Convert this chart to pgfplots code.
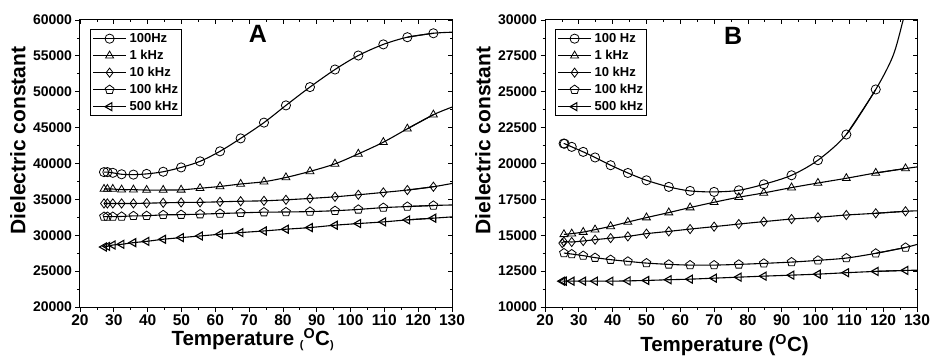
\documentclass[border=0pt]{standalone}
\usepackage{pgfplots}
\pgfplotsset{compat=1.18}
\usepackage{fontspec}
\setmainfont{Liberation Sans}
\usetikzlibrary{plotmarks}

\pgfplotsset{
 base/.style={scale only axis, width=372pt, height=287pt, xmin=20, xmax=130,
   xtick={20,30,...,130}, minor x tick num=1, minor y tick num=1,
   /pgf/number format/assume math mode=true,
   /pgf/number format/set thousands separator={},
   scaled y ticks=false,
   yticklabel style={font=\bfseries\fontsize{14}{14}\selectfont},
   xticklabel style={font=\bfseries\fontsize{15.5}{15.5}\selectfont},
   tick style={black, line width=0.8pt},
   major tick length=4.5pt, minor tick length=2.5pt,
   axis line style={line width=1pt}},
 mainax/.style={base, tick align=outside, tick pos=left,
   xlabel style={font=\bfseries\fontsize{20.5}{21}\selectfont},
   ylabel style={font=\bfseries\fontsize{21}{21}\selectfont},
   ylabel={Dielectric constant},
   ylabel style={at={(axis description cs:-0.147,0.58)}, anchor=base},
   legend style={at={(axis description cs:0.027,0.968)}, anchor=north west,
     draw=black, line width=1pt, font=\bfseries\fontsize{13}{13}\selectfont,
     cells={anchor=west}, row sep=3pt, inner sep=2pt,
     nodes={inner sep=1pt, text height=9.5pt, text depth=2.5pt},
     /tikz/every odd column/.style={column sep=2pt}},
   legend image code/.code={\draw[mark repeat=2,mark phase=2] plot coordinates {(0pt,0pt) (16.5pt,0pt) (33pt,0pt)};}},
 overax/.style={base, tick align=inside, tick pos=right, xticklabels={}, yticklabels={}, axis line style={draw=none}},
 ser/.style={black, line width=1.1pt, smooth, mark size=4.6pt, mark options={fill=white, line width=0.8pt, solid}},
 tail/.style={black, line width=1.1pt, smooth, no markers, forget plot},
}

\begin{document}
\begin{tikzpicture}
% ---------------- Panel A ----------------
\begin{axis}[mainax, at={(0pt,0pt)}, ymin=20000, ymax=60000, ytick={20000,25000,...,60000},
  xlabel style={at={(axis description cs:0.464,0)}, anchor=base, yshift=-38.7pt},
  xlabel={Temperature \raisebox{-2.5pt}{\fontsize{11}{11}\selectfont(}\textsuperscript{O}C\raisebox{-2.5pt}{\fontsize{11}{11}\selectfont)}}]
\addplot[ser, mark=o] coordinates {(27.1,38800)(28.1,38800)(29.7,38700)(32.3,38500)(35.8,38450)(39.7,38550)(44.6,38850)(49.9,39450)(55.5,40300)(61.4,41700)(67.5,43500)(74.4,45700)(80.9,48100)(88.0,50650)(95.4,53100)(102.3,55050)(109.7,56600)(116.8,57600)(124.5,58150)};
\addlegendentry{100Hz}
\addplot[tail] coordinates {(116.8,57600)(124.5,58150)(130,58300)};
\addplot[ser, mark=triangle] coordinates {(27.1,36440)(28.1,36440)(29.7,36440)(32.3,36350)(35.8,36350)(39.7,36300)(44.6,36300)(49.9,36330)(55.5,36550)(61.4,36800)(67.5,37140)(74.4,37460)(80.9,38050)(88.0,38900)(95.4,39950)(102.3,41340)(109.7,42970)(116.8,44840)(124.5,46800)};
\addlegendentry{1 kHz}
\addplot[tail] coordinates {(116.8,44840)(124.5,46800)(130,47860)};
\addplot[ser, mark=diamond] coordinates {(27.1,34430)(28.1,34430)(29.7,34430)(32.3,34430)(35.8,34430)(39.7,34470)(44.6,34520)(49.9,34570)(55.5,34590)(61.4,34660)(67.5,34740)(74.4,34800)(80.9,34940)(88.0,35130)(95.4,35360)(102.3,35640)(109.7,35970)(116.8,36300)(124.5,36760)};
\addlegendentry{10 kHz}
\addplot[tail] coordinates {(116.8,36300)(124.5,36760)(130,37220)};
\addplot[ser, mark=pentagon] coordinates {(27.1,32600)(28.1,32600)(29.7,32600)(32.3,32620)(35.8,32700)(39.7,32720)(44.6,32840)(49.9,32870)(55.5,32940)(61.4,33030)(67.5,33120)(74.4,33220)(80.9,33240)(88.0,33300)(95.4,33420)(102.3,33600)(109.7,33850)(116.8,34000)(124.5,34150)};
\addlegendentry{100 kHz}
\addplot[tail] coordinates {(116.8,34000)(124.5,34150)(130,34220)};
\addplot[ser, mark=triangle, mark options={rotate=90}] coordinates {(27.1,28360)(28.1,28450)(29.7,28640)(32.3,28740)(35.8,28970)(39.7,29150)(44.6,29440)(49.9,29670)(55.5,29900)(61.4,30140)(67.5,30370)(74.4,30600)(80.9,30840)(88.0,31070)(95.4,31400)(102.3,31630)(109.7,31860)(116.8,32140)(124.5,32380)};
\addlegendentry{500 kHz}
\addplot[tail] coordinates {(116.8,32140)(124.5,32380)(130,32560)};
\node[font=\bfseries\fontsize{25}{25}\selectfont] at (axis description cs:0.478,0.951) {A};
\end{axis}
\begin{axis}[overax, at={(0pt,0pt)}, ymin=20000, ymax=60000, ytick={20000,25000,...,60000}]
\end{axis}
% ---------------- Panel B ----------------
\begin{axis}[mainax, at={(465pt,0pt)}, ymin=10000, ymax=30000, ytick={10000,12500,...,30000},
  xlabel style={at={(axis description cs:0.4825,0)}, anchor=base, yshift=-44.7pt},
  xlabel={Temperature (\textsuperscript{O}C)}]
\addplot[ser, mark=o] coordinates {(25.5,21390)(25.8,21380)(27.9,21160)(31.3,20810)(34.8,20420)(39.4,19880)(44.5,19340)(50.0,18830)(56.6,18370)(62.9,18090)(70.0,18020)(77.3,18130)(84.7,18550)(92.9,19180)(100.7,20230)(109.1,22020)(117.8,25160)};
\addlegendentry{100 Hz}
\addplot[tail] coordinates {(109.1,22020)(117.8,25160)(122.9,27500)(125.9,30000)(127.5,31600)};
\addplot[ser, mark=triangle] coordinates {(25.6,15063)(27.9,15110)(31.3,15220)(34.8,15390)(39.4,15620)(44.5,15920)(50.0,16230)(56.6,16580)(62.9,16930)(70.0,17300)(77.3,17650)(84.7,17950)(92.9,18320)(100.7,18640)(109.1,18970)(117.8,19340)(126.6,19650)};
\addlegendentry{1 kHz}
\addplot[tail] coordinates {(117.8,19340)(126.6,19650)(130,19760)};
\addplot[ser, mark=diamond] coordinates {(25.1,14450)(25.6,14550)(27.9,14530)(31.3,14600)(34.8,14690)(39.4,14800)(44.5,14920)(50.0,15110)(56.6,15270)(62.9,15430)(70.0,15600)(77.3,15780)(84.7,15950)(92.9,16130)(100.7,16250)(109.1,16410)(117.8,16530)(126.6,16670)};
\addlegendentry{10 kHz}
\addplot[tail] coordinates {(117.8,16530)(126.6,16670)(130,16700)};
\addplot[ser, mark=pentagon] coordinates {(25.6,13760)(27.9,13690)(31.3,13580)(34.8,13440)(39.4,13300)(44.5,13180)(50.0,13060)(56.6,12970)(62.9,12920)(70.0,12920)(77.3,12970)(84.7,13040)(92.9,13130)(100.7,13250)(109.1,13410)(117.8,13740)(126.6,14150)};
\addlegendentry{100 kHz}
\addplot[tail] coordinates {(117.8,13740)(126.6,14150)(130,14360)};
\addplot[ser, mark=triangle, mark options={rotate=90}] coordinates {(25.1,11800)(25.6,11800)(27.9,11800)(31.3,11800)(34.8,11800)(39.4,11800)(44.5,11820)(50.0,11850)(56.6,11900)(62.9,11940)(70.0,12010)(77.3,12080)(84.7,12150)(92.9,12220)(100.7,12290)(109.1,12390)(117.8,12480)(126.6,12550)};
\addlegendentry{500 kHz}
\addplot[tail] coordinates {(117.8,12480)(126.6,12550)(130,12560)};
\node[font=\bfseries\fontsize{25}{25}\selectfont] at (axis description cs:0.506,0.944) {B};
\end{axis}
\begin{axis}[overax, at={(465pt,0pt)}, ymin=10000, ymax=30000, ytick={10000,12500,...,30000}]
\end{axis}
\pgfresetboundingbox
\useasboundingbox (-80pt,-49pt) rectangle (851pt,307pt);
\end{tikzpicture}
\end{document}
